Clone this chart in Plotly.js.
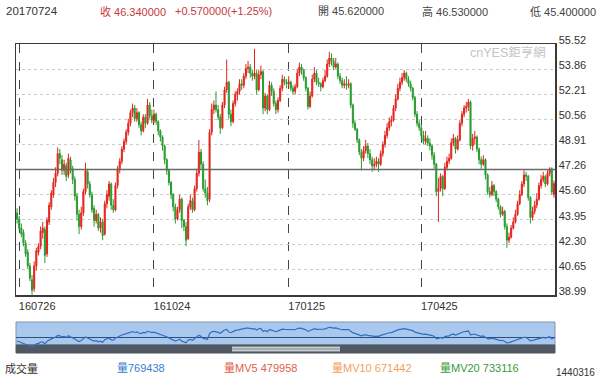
<!DOCTYPE html>
<html>
<head>
<meta charset="utf-8">
<script src="https://cdn.plot.ly/plotly-3.0.1.min.js"></script>
<style>
html,body{margin:0;padding:0;background:#fff;}
#chart{width:600px;height:379px;}
</style>
</head>
<body>
<div id="chart"></div>
<script>
// ---- data ----
const openP = [44.4,44.0,43.4,43.1,42.4,41.8,40.9,40.0,39.4,40.9,41.8,42.2,43.1,43.3,41.7,43.8,44.8,45.6,46.4,47.0,
48.3,47.9,47.2,47.5,46.9,47.9,47.3,46.6,45.5,44.3,43.5,44.4,45.8,47.1,46.3,45.6,44.7,43.9,44.3,43.4,
43.8,43.0,45.0,45.5,46.3,44.9,44.6,46.2,47.3,47.8,48.6,49.1,49.7,50.3,51.0,51.3,50.6,51.0,50.2,49.8,
50.7,50.3,51.5,50.8,50.5,50.9,50.4,49.8,49.4,48.8,47.9,47.2,46.4,45.6,44.8,44.0,44.6,45.3,43.9,43.5,
42.7,44.8,45.2,44.6,46.0,47.0,48.4,47.6,46.0,45.7,45.3,49.7,51.2,51.5,51.2,50.7,50.0,51.5,52.5,53.0,
50.9,50.4,51.6,52.2,52.4,52.9,52.8,53.4,53.9,54.0,53.6,53.4,53.6,52.5,53.5,53.7,51.3,52.1,51.2,52.8,
52.4,51.6,51.2,51.8,52.6,53.2,53.0,52.9,53.0,52.6,52.4,52.7,53.6,54.0,53.8,53.3,52.6,51.4,52.1,53.2,
53.6,53.0,52.9,52.7,53.1,53.4,54.2,54.6,54.4,54.0,54.2,53.4,53.1,52.8,52.9,52.8,52.9,51.5,50.3,49.9,
49.2,48.4,48.0,48.5,48.8,48.3,47.9,47.5,47.6,47.8,47.6,48.3,48.9,49.5,50.0,50.4,50.5,51.3,51.9,52.6,
53.0,53.3,53.6,53.2,52.9,52.6,52.0,50.9,50.3,50.0,49.5,49.1,49.3,49.0,48.8,48.2,47.6,45.8,46.0,46.8,
46.0,47.4,47.8,48.0,49.0,49.3,48.6,49.2,50.3,50.9,51.3,51.4,51.7,48.8,49.3,49.4,48.6,47.9,47.6,47.9,
46.9,45.8,45.6,46.2,45.8,45.3,44.8,44.3,44.5,43.5,42.6,42.8,43.4,43.8,44.3,45.0,45.6,46.3,46.9,46.8,
45.4,44.1,44.5,44.9,45.3,46.2,46.6,46.8,46.3,47.0,47.3,45.62];
const highP = [44.7,44.2,43.7,43.3,42.6,42.0,41.1,40.3,41.2,42.1,42.4,43.5,43.8,43.5,44.1,45.1,45.9,46.7,47.4,48.7,
48.6,48.2,47.9,47.7,48.3,48.1,47.5,46.8,45.7,44.6,44.8,46.0,47.7,47.3,46.5,45.8,44.9,44.6,44.4,44.1,
44.0,45.2,45.9,46.5,46.4,45.3,46.4,47.5,48.0,48.8,49.3,49.9,50.6,51.2,51.6,51.5,51.3,51.1,50.4,50.9,
50.9,51.9,51.7,51.2,51.2,51.0,50.5,49.9,49.5,48.9,48.0,47.3,46.5,45.7,45.0,44.8,45.6,45.4,44.0,43.8,
45.0,45.6,45.4,46.2,47.3,49.2,48.6,47.8,46.6,46.1,49.9,51.6,51.8,52.4,51.5,50.9,51.7,52.7,54.5,53.1,
51.2,51.8,52.4,52.6,53.2,53.2,53.6,54.2,54.4,54.2,53.8,55.2,53.8,53.8,54.1,53.8,52.3,52.2,53.1,53.0,
52.6,51.8,52.0,52.8,53.5,53.4,53.2,53.4,53.1,52.8,52.9,53.9,54.3,54.2,53.9,53.4,52.7,52.4,53.5,54.0,
53.8,53.3,53.0,53.3,53.8,54.5,55.0,54.9,54.6,54.6,54.3,53.6,53.3,53.2,53.4,53.2,53.0,51.6,50.5,50.0,
49.3,48.6,48.8,49.2,49.0,48.6,48.1,48.0,48.1,48.0,48.5,49.1,49.8,50.3,50.7,50.8,51.5,52.2,52.9,53.3,
53.6,53.8,53.7,53.4,53.1,52.7,52.1,51.1,50.5,50.2,49.8,49.8,49.5,49.3,48.9,48.4,47.7,46.7,47.0,46.9,
47.7,48.1,48.3,49.3,49.6,49.4,49.5,50.5,51.1,51.5,51.7,51.9,51.8,49.6,49.8,49.5,48.7,48.1,48.2,48.0,
47.0,46.1,46.5,46.3,45.9,45.4,44.9,44.8,44.6,43.7,43.1,43.6,44.1,44.6,45.2,45.9,46.5,47.2,47.1,46.9,
45.5,44.8,45.2,45.7,46.4,46.9,47.1,46.9,47.2,47.4,47.4,46.53];
const lowP = [43.7,43.2,42.8,42.2,41.5,40.7,39.9,39.0,39.2,40.6,41.6,42.0,42.7,41.1,41.5,43.6,44.6,45.4,46.1,46.8,
47.6,46.9,46.9,46.5,46.7,47.0,46.3,45.2,43.9,43.0,43.3,44.2,45.6,46.0,45.4,44.4,43.5,43.7,43.2,43.1,
42.6,42.9,44.7,45.2,44.6,44.4,44.5,46.0,47.0,47.6,48.4,48.9,49.5,50.1,50.7,50.4,50.4,50.0,49.5,49.7,
50.0,50.2,50.6,50.3,50.3,50.2,49.5,49.1,48.5,47.6,46.9,46.2,45.3,44.5,43.7,43.9,44.4,43.4,43.2,42.2,
42.6,44.6,44.4,44.5,45.8,46.8,47.3,45.8,45.4,44.9,45.1,49.5,50.9,51.0,50.5,49.6,49.9,51.3,52.3,50.6,
50.1,50.3,51.4,51.8,52.2,52.5,52.6,53.2,53.6,53.3,53.1,53.2,52.2,52.4,53.2,50.9,51.1,50.9,51.1,52.1,
51.4,50.9,51.0,51.7,52.4,52.8,52.6,52.7,52.4,52.2,52.2,52.6,53.4,53.5,53.1,52.4,51.2,51.3,52.0,53.0,
52.8,52.7,52.4,52.6,53.0,53.3,54.0,54.1,53.8,53.9,53.2,52.9,52.6,52.6,52.5,52.6,51.3,50.0,49.8,49.0,
48.2,47.2,47.8,48.3,48.0,47.6,47.1,47.2,47.4,47.1,47.5,48.1,48.7,49.3,49.8,50.1,50.4,51.1,51.8,52.4,
52.8,53.1,53.0,52.7,52.4,51.8,50.7,50.1,49.8,49.2,48.9,48.9,48.8,48.5,47.9,47.3,45.5,43.8,45.8,45.5,
45.9,47.2,47.6,47.9,48.8,48.3,48.5,49.1,50.1,50.7,51.0,51.1,48.6,48.5,48.9,48.4,47.6,47.3,47.5,46.6,
45.6,45.4,45.5,45.5,45.1,44.6,44.1,44.2,43.3,42.1,42.4,42.7,43.3,43.7,44.2,44.9,45.5,46.1,46.5,45.2,
43.7,43.9,44.3,44.7,45.2,46.0,46.4,46.1,46.2,46.8,45.6,45.40];
const closeP = [44.0,43.4,43.0,42.4,41.7,40.9,40.1,39.3,40.9,41.9,42.2,43.2,43.4,41.6,43.9,44.9,45.7,46.4,47.0,48.3,
48.0,47.2,47.6,46.8,48.0,47.2,46.6,45.5,44.3,43.5,44.4,45.8,47.2,46.3,45.6,44.6,43.9,44.3,43.4,43.8,
42.9,45.0,45.6,46.3,44.9,44.6,46.2,47.3,47.8,48.6,49.1,49.7,50.3,51.0,51.3,50.6,51.0,50.2,49.8,50.7,
50.3,51.5,50.8,50.5,50.9,50.4,49.8,49.4,48.8,47.9,47.2,46.4,45.6,44.8,44.0,44.6,45.3,43.9,43.5,42.6,
44.8,45.2,44.6,46.0,47.0,48.4,47.6,46.0,45.7,45.2,49.7,51.2,51.5,51.2,50.7,50.0,51.5,52.5,53.0,50.9,
50.4,51.6,52.2,52.4,52.9,52.8,53.4,53.9,54.0,53.6,53.4,53.6,52.5,53.5,53.7,51.3,52.1,51.2,52.8,52.4,
51.6,51.2,51.8,52.6,53.2,53.0,52.9,53.0,52.6,52.4,52.7,53.6,54.0,53.8,53.3,52.6,51.4,52.1,53.2,53.6,
53.0,52.9,52.7,53.1,53.4,54.2,54.6,54.4,54.0,54.2,53.4,53.1,52.8,52.9,52.8,52.9,51.5,50.3,49.9,49.2,
48.4,48.0,48.5,48.8,48.3,47.9,47.5,47.6,47.8,47.6,48.3,48.9,49.5,50.0,50.4,50.5,51.3,51.9,52.6,53.0,
53.3,53.6,53.2,52.9,52.6,52.0,50.9,50.3,50.0,49.5,49.1,49.3,49.0,48.8,48.2,47.6,45.8,46.0,46.8,46.0,
47.4,47.8,48.0,49.0,49.3,48.6,49.2,50.3,50.9,51.3,51.4,51.7,48.8,49.3,49.4,48.6,47.9,47.6,47.9,46.9,
45.8,45.6,46.2,45.8,45.3,44.8,44.3,44.5,43.5,42.6,42.8,43.4,43.8,44.3,45.0,45.6,46.3,46.9,46.8,45.4,
44.1,44.5,44.9,45.3,46.2,46.6,46.8,46.3,47.0,47.3,45.77,46.34];

const firstDay = '2016-07-25';
const holidays = ['2016-09-05','2016-11-24','2016-12-26','2017-01-02','2017-01-16','2017-02-20','2017-04-14','2017-05-29','2017-07-04'];
const tickDates = ['2016-07-26','2016-10-24','2017-01-25','2017-04-25'];
const tickLabels = ['160726','161024','170125','170425'];
const yTicks = [38.99,40.65,42.30,43.95,45.60,47.26,48.91,50.56,52.21,53.86,55.52];

const headerDate = '20170724';
const headerClose = '收 46.340000';
const headerChange = '+0.570000(+1.25%)';
const headerOpen = '開 45.620000';
const headerHigh = '高 46.530000';
const headerLow = '低 45.400000';
const volLabels = ['成交量','量769438','量MV5 479958','量MV10 671442','量MV20 733116'];
const volColors = ['#333333','#3a7fd0','#e0604a','#f0a060','#3a9a3a'];
const volTop = '1440316';

// trading calendar (categories)
function tradingDays(start, n){
  const out=[]; const d=new Date(start+'T00:00:00Z');
  while(out.length<n){
    const s=d.toISOString().slice(0,10); const wd=d.getUTCDay();
    if(wd!==0 && wd!==6 && holidays.indexOf(s)<0) out.push(s);
    d.setUTCDate(d.getUTCDate()+1);
  }
  return out;
}
const dates = tradingDays(firstDay, closeP.length);

// ---- layout geometry (px) ----
const W=600,H=379, L=16, R=555, T=44, MB=295, NT=322, NB=353;
const ph = NB-T;
const py = p => (NB-p)/ph;
const px = p => (p-L)/(R-L);

const candle = {
  type:'candlestick', x:dates, open:openP, high:highP, low:lowP, close:closeP,
  xaxis:'x', yaxis:'y',
  increasing:{line:{color:'#e3241c',width:1},fillcolor:'#e3241c'},
  decreasing:{line:{color:'#2a9b2e',width:1},fillcolor:'#2a9b2e'},
  whiskerwidth:0, hoverinfo:'skip', showlegend:false
};
const nav = {
  type:'scatter', mode:'lines', x:dates, y:closeP, xaxis:'x2', yaxis:'y2',
  line:{color:'#2f6fbf',width:1.2}, hoverinfo:'skip', showlegend:false
};

const font = 'Liberation Sans, Arial, Noto Sans CJK TC, sans-serif';
const ann = [];
function addText(text, x, y, color, size, anchor){
  ann.push({text:text, xref:'paper', yref:'paper', x:px(x), y:py(y), xanchor:anchor||'left', yanchor:'middle',
    showarrow:false, font:{family:font, size:size||11, color:color}});
}
addText(headerDate, 4, 11, '#333', 11.5);
addText(headerClose, 98, 11, '#c8393b', 11);
addText(headerChange, 173, 11, '#c8393b', 11);
addText(headerOpen, 316, 11, '#444', 11);
addText(headerHigh, 420, 11, '#444', 11);
addText(headerLow, 598, 11, '#444', 11, 'right');
const volX = [3,115,222,330,438];
volLabels.forEach((t,i)=>addText(t, volX[i], 368, volColors[i], 11));
addText(volTop, 597, 372, '#333', 10, 'right');
ann.push({text:'cnYES鉅亨網', xref:'paper', yref:'paper', x:px(548), y:py(52), xanchor:'right', yanchor:'middle',
  showarrow:false, font:{family:font, size:12.5, color:'#c4c4c4'}});

const shapes = [
  // navigator body
  {type:'rect', xref:'paper', yref:'paper', x0:0, x1:1, y0:py(345), y1:py(NT), fillcolor:'#aac8ee', line:{color:'#7f93ad',width:1}, layer:'below'},
  {type:'rect', xref:'paper', yref:'paper', x0:0, x1:1, y0:py(NB), y1:py(345), fillcolor:'#4f5862', line:{color:'#4f5862',width:1}, layer:'below'},
  {type:'line', xref:'paper', yref:'paper', x0:0, x1:1, y0:py(337.5), y1:py(337.5), line:{color:'#2c4f7e',width:1.2}, layer:'below'},
  {type:'line', xref:'paper', yref:'paper', x0:px(232), x1:px(340), y0:py(347.2), y1:py(347.2), line:{color:'#ffffff',width:1}, layer:'above'},
  {type:'line', xref:'paper', yref:'paper', x0:px(232), x1:px(340), y0:py(349), y1:py(349), line:{color:'#ffffff',width:1}, layer:'above'},
  {type:'line', xref:'paper', yref:'paper', x0:px(232), x1:px(340), y0:py(350.8), y1:py(350.8), line:{color:'#ffffff',width:1}, layer:'above'},
  // mid line
  {type:'line', xref:'paper', yref:'y', x0:0, x1:1, y0:yTicks[5], y1:yTicks[5], line:{color:'#6a6a6a',width:1.5}, layer:'above'}
];

const layout = {
  width:W, height:H, margin:{l:L, r:W-R, t:T, b:H-NB, pad:0},
  paper_bgcolor:'#fff', plot_bgcolor:'rgba(0,0,0,0)',
  font:{family:font, size:11, color:'#333'},
  showlegend:false, hovermode:false, dragmode:false,
  xaxis:{type:'category', anchor:'y', range:[-0.5, dates.length-0.5], rangeslider:{visible:false},
    tickmode:'array', tickvals:tickDates, ticktext:tickLabels, ticks:'', ticklabelshift:18, ticklabelstandoff:0,
    showgrid:true, gridcolor:'#444', griddash:'dash', gridwidth:1,
    showline:true, mirror:true, linecolor:'#3a3a3a', linewidth:1.5, zeroline:false,
    tickfont:{family:font, size:11, color:'#333'}, fixedrange:true},
  yaxis:{domain:[py(MB),1], side:'right', range:[yTicks[0], yTicks[yTicks.length-1]],
    tickmode:'array', tickvals:yTicks, ticktext:yTicks.map(v=>v.toFixed(2)), ticks:'', ticklabelshift:-4,
    showgrid:true, gridcolor:'#cccccc', griddash:'dot', gridwidth:1,
    showline:true, mirror:true, linecolor:'#3a3a3a', linewidth:1.5, zeroline:false,
    tickfont:{family:font, size:11, color:'#333'}, fixedrange:true},
  xaxis2:{type:'category', anchor:'y2', range:[-0.5, dates.length-0.5], visible:false, showgrid:false, fixedrange:true},
  yaxis2:{domain:[0, py(NT)], anchor:'x2', range:[34.7, 58.7], visible:false, showgrid:false, fixedrange:true},
  annotations:ann, shapes:shapes
};

Plotly.newPlot('chart', [candle, nav], layout, {displayModeBar:false, staticPlot:true});
</script>
</body>
</html>
